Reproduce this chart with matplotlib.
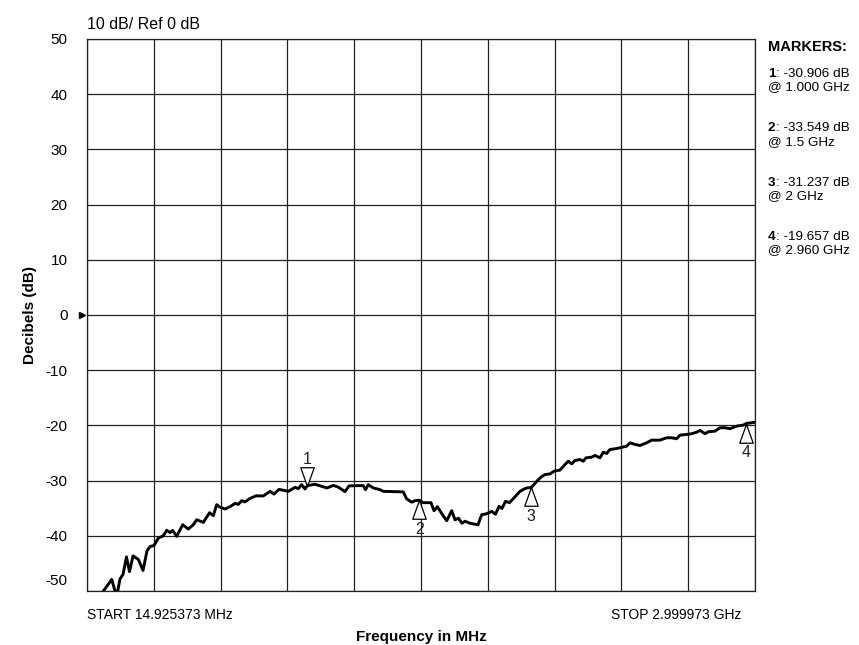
import numpy as np
import matplotlib.pyplot as plt
from matplotlib.transforms import ScaledTranslation, blended_transform_factory

plt.rcParams['font.family'] = ['Liberation Sans', 'DejaVu Sans']

# trace (MHz, dB)
freq_mhz = [50.7, 81.9, 125.3, 147.6, 162.4, 175.8, 191.4, 204.8, 220.5, 244.2,
            265.2, 283.0, 296.4, 314.3, 333.5, 355.9, 371.0, 385.8, 397.9, 415.7,
            442.5, 467.6, 489.9, 505.1, 534.6, 562.3, 579.3, 594.5, 609.2, 631.6,
            653.9, 676.3, 691.0, 706.2, 720.9, 743.3, 770.1, 802.7, 832.7, 850.5,
            872.9, 890.7, 914.4, 944.4, 959.1, 974.3, 989.1, 1000.0, 1033.7, 1063.7,
            1087.4, 1115.5, 1137.9, 1167.8, 1185.7, 1220.1, 1249.6, 1259.4, 1271.9, 1294.3,
            1324.2, 1339.0, 1428.3, 1442.6, 1465.8, 1480.6, 1500.0, 1517.7, 1552.1, 1565.5,
            1581.1, 1603.5, 1622.3, 1644.6, 1659.3, 1675.0, 1690.6, 1704.0, 1726.4, 1762.1,
            1778.7, 1801.0, 1823.3, 1840.3, 1856.0, 1869.4, 1885.0, 1902.9, 1929.7, 1949.8,
            1969.0, 1979.8, 2000.0, 2015.0, 2024.4, 2046.8, 2061.5, 2083.9, 2101.7, 2128.5,
            2150.9, 2165.6, 2180.8, 2195.6, 2217.9, 2232.7, 2244.7, 2270.2, 2284.9, 2307.3,
            2322.0, 2337.2, 2352.0, 2374.3, 2396.7, 2426.6, 2441.3, 2463.7, 2486.0, 2516.0,
            2538.3, 2575.4, 2605.3, 2627.7, 2650.0, 2664.8, 2694.7, 2717.1, 2739.4, 2754.2,
            2776.5, 2791.2, 2821.2, 2843.5, 2865.9, 2888.2, 2918.1, 2947.6, 2960.0, 3000.0]
level_db = [-50.55, -50.36, -47.91, -51.04, -47.82, -47.0, -43.82, -46.49, -43.64, -44.27,
            -46.27, -42.73, -41.95, -41.76, -40.42, -40.0, -39.0, -39.4, -39.04, -40.09,
            -38.0, -38.78, -38.0, -37.09, -37.58, -35.82, -36.36, -34.36, -34.82, -35.15,
            -34.73, -34.13, -34.31, -33.64, -33.87, -33.24, -32.76, -32.78, -31.95, -32.45,
            -31.6, -31.73, -31.95, -31.22, -31.45, -30.73, -31.51, -30.906, -30.67, -31.04,
            -31.33, -30.87, -31.18, -32.0, -30.96, -30.91, -30.91, -31.64, -30.73, -31.33,
            -31.64, -31.95, -32.04, -33.27, -33.91, -33.64, -33.549, -34.0, -34.0, -35.45,
            -34.73, -36.18, -37.27, -35.45, -37.09, -36.82, -37.73, -37.36, -37.73, -38.0,
            -36.18, -36.0, -35.58, -36.09, -34.67, -35.05, -33.76, -34.0, -32.82, -31.95,
            -31.51, -31.33, -31.237, -30.6, -30.13, -29.27, -28.91, -28.78, -28.31, -28.09,
            -27.09, -26.49, -26.96, -26.36, -26.18, -26.49, -25.87, -25.76, -25.45, -25.87,
            -24.85, -25.09, -24.36, -24.24, -24.05, -23.76, -23.15, -23.45, -23.64, -23.15,
            -22.67, -22.67, -22.24, -22.24, -22.42, -21.76, -21.64, -21.51, -21.22, -20.91,
            -21.51, -21.15, -21.04, -20.42, -20.42, -20.6, -20.13, -19.95, -19.657, -19.45]

marker_ids = ['1', '2', '3', '4']
marker_freq = [1000.0, 1500.0, 2000.0, 2960.0]
marker_db = [-30.906, -33.549, -31.237, -19.657]
marker_text = ['-30.906 dB', '-33.549 dB', '-31.237 dB', '-19.657 dB']
marker_at = ['@ 1.000 GHz', '@ 1.5 GHz', '@ 2 GHz', '@ 2.960 GHz']

start_mhz = 14.925373
stop_mhz = 2999.973
y_ticks = [50, 40, 30, 20, 10, 0, -10, -20, -30, -40, -50]

fig = plt.figure(figsize=(8.59, 6.45), dpi=100)
ax = fig.add_axes([87 / 859, 1 - 591 / 645, 668 / 859, 552 / 645])

ax.set_xlim(start_mhz, stop_mhz)
ax.set_ylim(-50, 50)
ax.set_xticks(np.linspace(start_mhz, stop_mhz, 11))
ax.set_xticklabels([])
ax.set_yticks(y_ticks)
ax.set_yticklabels([str(t) for t in y_ticks], fontsize=11)
ax.tick_params(length=0, pad=14)
ax.grid(True, color='#222222', lw=0.9)
for s in ax.spines.values():
    s.set_color('#222222')
    s.set_linewidth(0.9)

# the -50 label sits a bit higher on the original
lbl = ax.get_yticklabels()[-1]
lbl.set_transform(lbl.get_transform() + ScaledTranslation(0, 8 / 72, fig.dpi_scale_trans))

# reference level arrow at 0 dB
tr = blended_transform_factory(ax.transAxes, ax.transData)
ax.plot([-0.008], [0], marker='>', ms=4, color='black', transform=tr, clip_on=False)

ax.plot(freq_mhz, level_db, color='black', lw=2.1, zorder=3)

# marker triangles
down_tri = [(0, 0), (-0.36, 1), (0.36, 1), (0, 0)]
up_tri = [(0, 0), (-0.36, -1), (0.36, -1), (0, 0)]
for i, (mid, f, d) in enumerate(zip(marker_ids, marker_freq, marker_db)):
    if i == 0:
        ax.plot(f, d, marker=down_tri, ms=27, mfc='white', mec='black', mew=0.9, zorder=4)
        ax.annotate(mid, (f, d), xytext=(0, 19), textcoords='offset points',
                    ha='center', va='center', fontsize=11.5, color='#222222')
    else:
        ax.plot(f, d, marker=up_tri, ms=27, mfc='white', mec='black', mew=0.9, zorder=4)
        ax.annotate(mid, (f, d), xytext=(0, -21), textcoords='offset points',
                    ha='center', va='center', fontsize=11.5, color='#222222')

ax.set_title('10 dB/ Ref 0 dB', loc='left', fontsize=11.5, pad=7)
ax.set_ylabel('Decibels (dB)', fontsize=11, fontweight='bold', labelpad=6)
fig.text(421 / 859, 1 - 637 / 645, 'Frequency in MHz', fontsize=11,
         fontweight='bold', ha='center', va='center')

ax.text(0.0, -0.03, 'START 14.925373 MHz', transform=ax.transAxes,
        fontsize=10, ha='left', va='top')
ax.text(0.98, -0.03, 'STOP 2.999973 GHz', transform=ax.transAxes,
        fontsize=10, ha='right', va='top')

# marker readout on the right
fig.text(768 / 859, 1 - 47 / 645, 'MARKERS:', fontsize=10.5, fontweight='bold', va='center')
for i, mid in enumerate(marker_ids):
    y0 = 1 - (74 + i * 54.3) / 645
    fig.text(768 / 859, y0, mid, fontsize=9.7, fontweight='bold', va='center')
    ax.annotate(': ' + marker_text[i], (768 / 859, y0), xycoords='figure fraction',
                xytext=(5.5, 0), textcoords='offset points', fontsize=9.7, va='center')
    fig.text(768 / 859, y0 - 13.5 / 645, marker_at[i], fontsize=9.7, va='center')

plt.savefig('out.png', dpi=100)
